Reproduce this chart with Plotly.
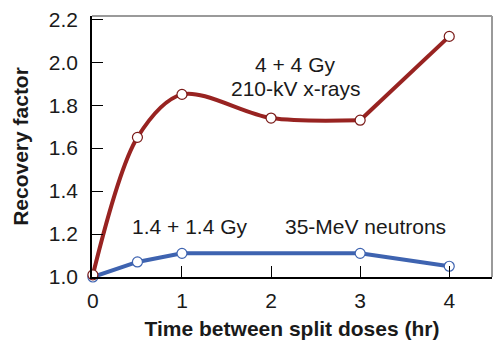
import plotly.graph_objects as go

# Data
time_xray = [0, 0.5, 1, 2, 3, 4]
recov_xray = [1.01, 1.65, 1.85, 1.74, 1.73, 2.12]
time_neut = [0, 0.5, 1, 3, 4]
recov_neut = [1.0, 1.07, 1.11, 1.11, 1.05]
x_ticks = [0, 1, 2, 3, 4]
y_ticks = [1.0, 1.2, 1.4, 1.6, 1.8, 2.0, 2.2]
y_tick_labels = ["1.0", "1.2", "1.4", "1.6", "1.8", "2.0", "2.2"]

RED = "#982321"
BLUE = "#3E63B0"
FONT = "Liberation Sans, Arial, sans-serif"

fig = go.Figure()
# x-ray curve: smooth through first five points, straight to the last
fig.add_trace(go.Scatter(x=time_xray[:5], y=recov_xray[:5], mode="lines",
                         line=dict(color=RED, width=4, shape="spline", smoothing=0.9),
                         cliponaxis=False, hoverinfo="skip"))
fig.add_trace(go.Scatter(x=time_xray[4:], y=recov_xray[4:], mode="lines",
                         line=dict(color=RED, width=4),
                         cliponaxis=False, hoverinfo="skip"))
fig.add_trace(go.Scatter(x=time_neut, y=recov_neut, mode="lines+markers",
                         line=dict(color=BLUE, width=4),
                         marker=dict(size=10, color="white", line=dict(color=BLUE, width=1.2)),
                         cliponaxis=False))
fig.add_trace(go.Scatter(x=time_xray, y=recov_xray, mode="markers",
                         marker=dict(size=10, color="white", line=dict(color="#7a1a18", width=1.2)),
                         cliponaxis=False))

annots = [
    dict(x=2.27, y=1.99, text="4 + 4 Gy"),
    dict(x=2.28, y=1.876, text="210-kV x-rays"),
    dict(x=1.08, y=1.235, text="1.4 + 1.4 Gy"),
    dict(x=3.06, y=1.235, text="35-MeV neutrons"),
]
for a in annots:
    fig.add_annotation(x=a["x"], y=a["y"], text=a["text"], showarrow=False,
                       font=dict(family=FONT, size=21, color="#1a1a1a"))

# gray top and right frame lines
fig.add_shape(type="line", xref="paper", yref="paper", x0=0, x1=1, y0=1, y1=1,
              line=dict(color="#9a9a9a", width=2))
fig.add_shape(type="line", xref="paper", yref="paper", x0=1, x1=1, y0=0, y1=1,
              line=dict(color="#9a9a9a", width=2))

fig.update_layout(
    width=500, height=345,
    margin=dict(l=92, r=8, t=11, b=66),
    paper_bgcolor="white", plot_bgcolor="white",
    showlegend=False,
    font=dict(family=FONT, size=21, color="#1a1a1a"),
    xaxis=dict(range=[-0.01, 4.48], tickvals=x_ticks, ticks="inside", ticklen=11,
               tickcolor="black", tickwidth=1, showline=True, linecolor="black",
               linewidth=1.5, showgrid=False, zeroline=False,
               ticklabelstandoff=4,
               tickfont=dict(family=FONT, size=21),
               title=dict(text="<b>Time between split doses (hr)</b>", standoff=10,
                          font=dict(family=FONT, size=21))),
    yaxis=dict(range=[1.0, 2.215], tickvals=y_ticks, ticktext=y_tick_labels,
               ticks="inside", ticklen=11, tickcolor="black", tickwidth=1,
               showline=True, linecolor="black", linewidth=1.5, showgrid=False,
               zeroline=False, ticklabelstandoff=8,
               tickfont=dict(family=FONT, size=21),
               title=dict(text="<b>Recovery factor</b>", standoff=14,
                          font=dict(family=FONT, size=21))),
)

fig.write_html("out.html")
